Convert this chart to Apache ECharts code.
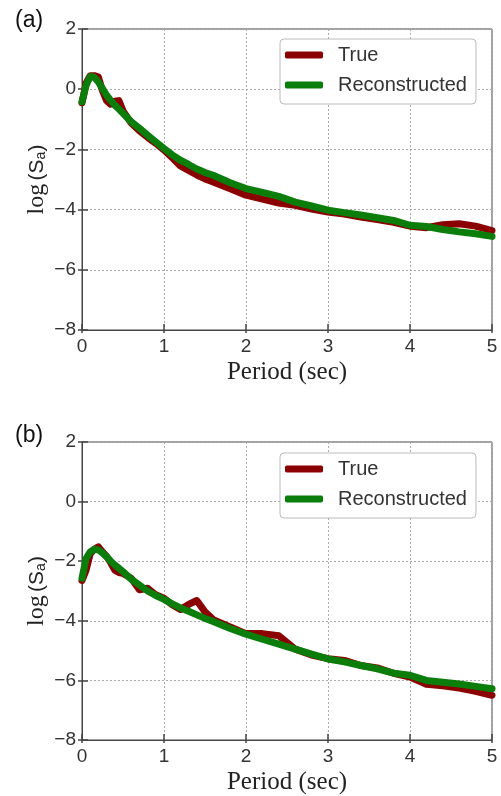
<!DOCTYPE html>
<html>
<head>
<meta charset="utf-8">
<script src="https://cdn.jsdelivr.net/npm/echarts@6/dist/echarts.min.js"></script>
<style>
html,body{margin:0;padding:0;background:#fff;}
#chart{width:501px;height:796px;}
</style>
</head>
<body>
<div id="chart"></div>
<script>
const periods = [0, 0.05, 0.1, 0.15, 0.2, 0.25, 0.3, 0.35, 0.4, 0.45, 0.5, 0.6, 0.7, 0.8, 0.9, 1.0, 1.1, 1.2, 1.3, 1.4, 1.5, 1.6, 1.8, 2.0, 2.2, 2.4, 2.6, 2.8, 3.0, 3.2, 3.4, 3.6, 3.8, 4.0, 4.2, 4.4, 4.6, 4.8, 5.0];

const trueA = [-0.45, 0.2, 0.45, 0.45, 0.4, -0.05, -0.38, -0.5, -0.4, -0.38, -0.72, -1.12, -1.38, -1.6, -1.8, -2.02, -2.28, -2.55, -2.7, -2.85, -2.98, -3.08, -3.3, -3.52, -3.65, -3.78, -3.86, -3.98, -4.08, -4.15, -4.25, -4.33, -4.42, -4.55, -4.6, -4.5, -4.47, -4.55, -4.7];
const reconA = [-0.42, 0.13, 0.42, 0.4, 0.24, 0.02, -0.2, -0.37, -0.53, -0.66, -0.8, -1.08, -1.3, -1.53, -1.75, -1.97, -2.18, -2.36, -2.5, -2.65, -2.77, -2.86, -3.1, -3.3, -3.43, -3.56, -3.75, -3.88, -4.02, -4.1, -4.18, -4.27, -4.36, -4.52, -4.56, -4.66, -4.74, -4.8, -4.89];

const trueB = [-2.65, -2.3, -1.75, -1.6, -1.52, -1.69, -1.84, -2.05, -2.3, -2.38, -2.41, -2.57, -2.96, -2.91, -3.13, -3.24, -3.46, -3.62, -3.45, -3.32, -3.7, -3.96, -4.2, -4.43, -4.43, -4.5, -4.95, -5.15, -5.27, -5.33, -5.5, -5.58, -5.76, -5.89, -6.13, -6.18, -6.26, -6.37, -6.5];
const reconB = [-2.57, -1.91, -1.69, -1.6, -1.62, -1.72, -1.85, -2.0, -2.13, -2.24, -2.35, -2.6, -2.8, -3.0, -3.15, -3.28, -3.43, -3.57, -3.68, -3.8, -3.92, -4.02, -4.25, -4.45, -4.62, -4.78, -4.95, -5.12, -5.28, -5.38, -5.5, -5.61, -5.76, -5.83, -6.0, -6.06, -6.12, -6.2, -6.28];

const seriesNames = ['True', 'Reconstructed'];
const panelLabels = ['(a)', '(b)'];
const xName = 'Period (sec)';

const RED = '#8B0000';
const GREEN = '#0b7d0b';
const AXIS = '#444';
const GRIDC = '#aaa';

function pairs(xs, ys) { return xs.map((x, i) => [x, ys[i]]); }

const grids = [
  {left: 82, top: 29, width: 410, height: 301},
  {left: 82, top: 442, width: 410, height: 302}
];

const xAxes = [], yAxes = [];
grids.forEach((g, i) => {
  xAxes.push({
    type: 'value', gridIndex: i, min: 0, max: 5, interval: 1,
    axisLine: {show: true, onZero: false, lineStyle: {color: AXIS, width: 1}},
    axisTick: {show: true, inside: true, length: 6, lineStyle: {color: AXIS, width: 1.5}},
    axisLabel: {color: '#333', fontSize: 19, fontFamily: 'Liberation Sans, Arial', margin: 7},
    splitLine: {show: true, lineStyle: {color: GRIDC, type: [2, 2], width: 1}},
    name: xName, nameLocation: 'middle', nameGap: 30,
    nameTextStyle: {fontFamily: 'Liberation Serif, serif', fontSize: 25, color: '#222'}
  });
  xAxes.push({
    type: 'value', gridIndex: i, min: 0, max: 5, interval: 1, position: 'bottom',
    axisLine: {show: false, onZero: false},
    axisTick: {show: true, inside: false, length: 3, lineStyle: {color: AXIS, width: 1.5}},
    axisLabel: {show: false}, splitLine: {show: false}
  });
  yAxes.push({
    type: 'value', gridIndex: i, min: -8, max: 2, interval: 2,
    axisLine: {show: true, onZero: false, lineStyle: {color: AXIS, width: 1}},
    axisTick: {show: true, inside: true, length: 6, lineStyle: {color: AXIS, width: 1.5}},
    axisLabel: {color: '#333', fontSize: 19, fontFamily: 'Liberation Sans, Arial', margin: 6,
      formatter: v => String(v).replace('-', '\u2212')},
    splitLine: {show: true, lineStyle: {color: GRIDC, type: [2, 2], width: 1}},
    name: '{s|log} {n|(S}{sub|a}{n|)}', nameLocation: 'middle', nameGap: 33,
    nameMoveOverlap: false,
    nameTextStyle: {
      color: '#222',
      rich: {
        s: {fontFamily: 'Liberation Serif, serif', fontSize: 24, color: '#222'},
        n: {fontFamily: 'Liberation Sans, Arial', fontSize: 21, color: '#222'},
        sub: {fontFamily: 'Liberation Sans, Arial', fontSize: 14, color: '#222', padding: [9, 0, 0, 0]}
      }
    }
  });
  yAxes.push({
    type: 'value', gridIndex: i, min: -8, max: 2, interval: 2, position: 'left',
    axisLine: {show: false, onZero: false},
    axisTick: {show: true, inside: false, length: 4, lineStyle: {color: AXIS, width: 1.5}},
    axisLabel: {show: false}, splitLine: {show: false}
  });
});

const dataSets = [[trueA, reconA], [trueB, reconB]];
const series = [];
dataSets.forEach((ds, i) => {
  series.push({
    name: seriesNames[0], type: 'line', xAxisIndex: i * 2, yAxisIndex: i * 2,
    data: pairs(periods, ds[0]), symbol: 'none', z: 3,
    lineStyle: {color: RED, width: 7, cap: 'round', join: 'round'},
    itemStyle: {color: RED}
  });
  series.push({
    name: seriesNames[1], type: 'line', xAxisIndex: i * 2, yAxisIndex: i * 2,
    data: pairs(periods, ds[1]), symbol: 'none', z: 4,
    lineStyle: {color: GREEN, width: 7, cap: 'round', join: 'round'},
    itemStyle: {color: GREEN}
  });
});

const legendTops = [39, 453];
const legends = legendTops.map(t => ({
  data: seriesNames, orient: 'vertical', left: 280, top: t,
  icon: 'roundRect', itemWidth: 38, itemHeight: 7, itemGap: 10,
  padding: [6, 9, 9, 5],
  backgroundColor: '#fff', borderColor: '#bbb', borderWidth: 1, borderRadius: 4,
  textStyle: {fontSize: 20, fontFamily: 'Liberation Sans, Arial', color: '#333', padding: [0, 0, 0, 10]},
  selectedMode: false
}));

const titles = panelLabels.map((t, i) => ({
  text: t, left: 15, top: i === 0 ? 9 : 424, padding: 0,
  textStyle: {fontSize: 23, fontWeight: 'normal', fontFamily: 'Liberation Sans, Arial', color: '#111'}
}));

const chart = echarts.init(document.getElementById('chart'), null, {renderer: 'canvas'});
chart.setOption({
  animation: false,
  backgroundColor: '#fff',
  title: titles,
  grid: grids.map(g => Object.assign({show: true, borderColor: AXIS, borderWidth: 1, backgroundColor: 'transparent'}, g)),
  xAxis: xAxes,
  yAxis: yAxes,
  legend: legends,
  series: series
});
</script>
</body>
</html>
